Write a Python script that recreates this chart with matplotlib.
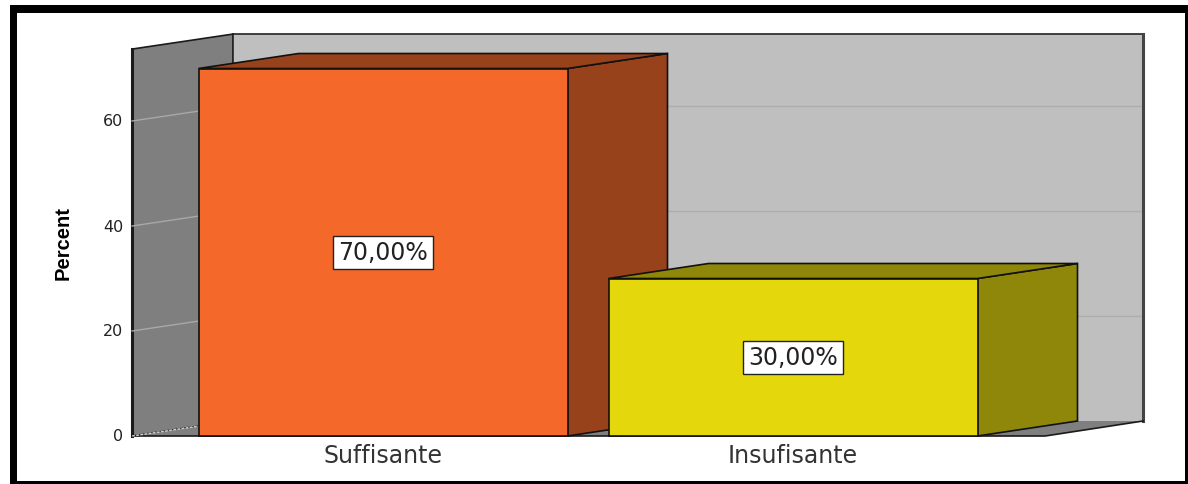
#!/usr/bin/env python
#
# 3D-look bar chart, percent per category
#
import matplotlib
matplotlib.use("Agg")
import matplotlib.pyplot as plt
from matplotlib.patches import Polygon, Rectangle

categories = ["Suffisante", "Insufisante"]
percents = [70.0, 30.0]
bar_labels = ["70,00%", "30,00%"]
front_colors = ["#f4682a", "#e4d80d"]
side_colors = ["#97421a", "#8f870a"]
top_colors = ["#97421a", "#8f870a"]
y_ticks = [0, 20, 40, 60]

W, H = 1188, 485
x_unit = 410.0    # pixels per category
y_unit = 5.25     # pixels per percent
x0_px = 383.0     # where category 0 sits
y0_px = 437.0     # where 0 percent sits

bar_halfw = 0.45
dx = 100.0 / x_unit   # depth of the fake 3d
dy = 15.0 / y_unit
wall_left = -0.612
wall_right = 1.615
back_left = -0.366
back_right = 1.854
wall_top = 73.7


def px(x, y):
    # image pixels to data coords, only used for the frame
    return (x - x0_px) / x_unit, (y0_px - y) / y_unit


fig = plt.figure(figsize=(W / 100, H / 100), dpi=100)
ax = fig.add_axes([0, 0, 1, 1])
ax.set_xlim(px(0, 0)[0], px(W, 0)[0])
ax.set_ylim(px(0, H)[1], px(0, 0)[1])
ax.axis("off")

# black frame
(fx, fy), (gx, gy) = px(10, 6), px(W + 5, H + 5)
ax.add_patch(Rectangle((fx, gy), gx - fx, fy - gy, fc="black", ec="none", zorder=0))
(fx, fy), (gx, gy) = px(17, 14), px(1185, 482)
ax.add_patch(Rectangle((fx, gy), gx - fx, fy - gy, fc="white", ec="none", zorder=0.5))

# back wall, left wall, floor
ax.add_patch(Polygon([(back_left, dy), (back_right, dy), (back_right, wall_top + dy),
                      (back_left, wall_top + dy)], fc="#bfbfbf", ec="none", zorder=1))
ax.plot([back_left, back_right], [wall_top + dy, wall_top + dy], color="#333333", lw=1.3, zorder=1.6)
ax.plot([back_right, back_right], [dy, wall_top + dy], color="#444444", lw=2.2, zorder=1.6)
ax.add_patch(Polygon([(wall_left, 0), (back_left, dy), (back_left, wall_top + dy),
                      (wall_left, wall_top)], fc="#7f7f7f", ec="#1a1a1a", lw=1.2, zorder=2))
ax.plot([wall_left, wall_left], [0, wall_top], color="#1a1a1a", lw=2.2, zorder=2.1)
ax.add_patch(Polygon([(wall_left, 0), (wall_right, 0), (back_right, dy), (back_left, dy)],
                     fc="#7f7f7f", ec="none", zorder=2))
ax.plot([back_right, wall_right, wall_left], [dy, 0, 0], color="#1a1a1a", lw=1.2, zorder=2.1)
ax.plot([wall_left, back_left], [0, dy], color="#d0d0d0", lw=1, ls=(0, (2, 1)), zorder=2.2)

# gridlines
for t in y_ticks[1:]:
    ax.plot([wall_left, back_left], [t, t + dy], color="#a8a8a8", lw=1, zorder=2.2)
    ax.plot([back_left, back_right], [t + dy, t + dy], color="#adadad", lw=1, zorder=1.5)

# bars
for i, v in enumerate(percents):
    l, r = i - bar_halfw, i + bar_halfw
    ax.add_patch(Polygon([(r, 0), (r + dx, dy), (r + dx, v + dy), (r, v)],
                         fc=side_colors[i], ec="#111111", lw=1.2, zorder=3 + i))
    ax.add_patch(Polygon([(l, v), (r, v), (r + dx, v + dy), (l + dx, v + dy)],
                         fc=top_colors[i], ec="#111111", lw=1.2, zorder=3 + i))
    ax.add_patch(Rectangle((l, 0), r - l, v, fc=front_colors[i], ec="#111111", lw=1.2, zorder=3.5 + i))
    ax.text(i, v / 2, bar_labels[i], ha="center", va="center", fontsize=17, color="#222222",
            zorder=6, bbox=dict(boxstyle="square,pad=0.2", fc="white", ec="#222222", lw=1))
    ax.text(i, -3.7, categories[i], ha="center", va="center", fontsize=17, color="#333333", zorder=6)

# y axis text
for t in y_ticks:
    ax.text(wall_left - 0.022, t, str(t), ha="right", va="center", fontsize=11.5, color="#222222", zorder=6)
ax.text(px(63, 0)[0], px(0, 243)[1], "Percent", rotation=90, ha="center", va="center", fontsize=14.5,
        fontweight="bold", family="Liberation Sans", color="black", zorder=6)

fig.savefig("out.png", dpi=100)
